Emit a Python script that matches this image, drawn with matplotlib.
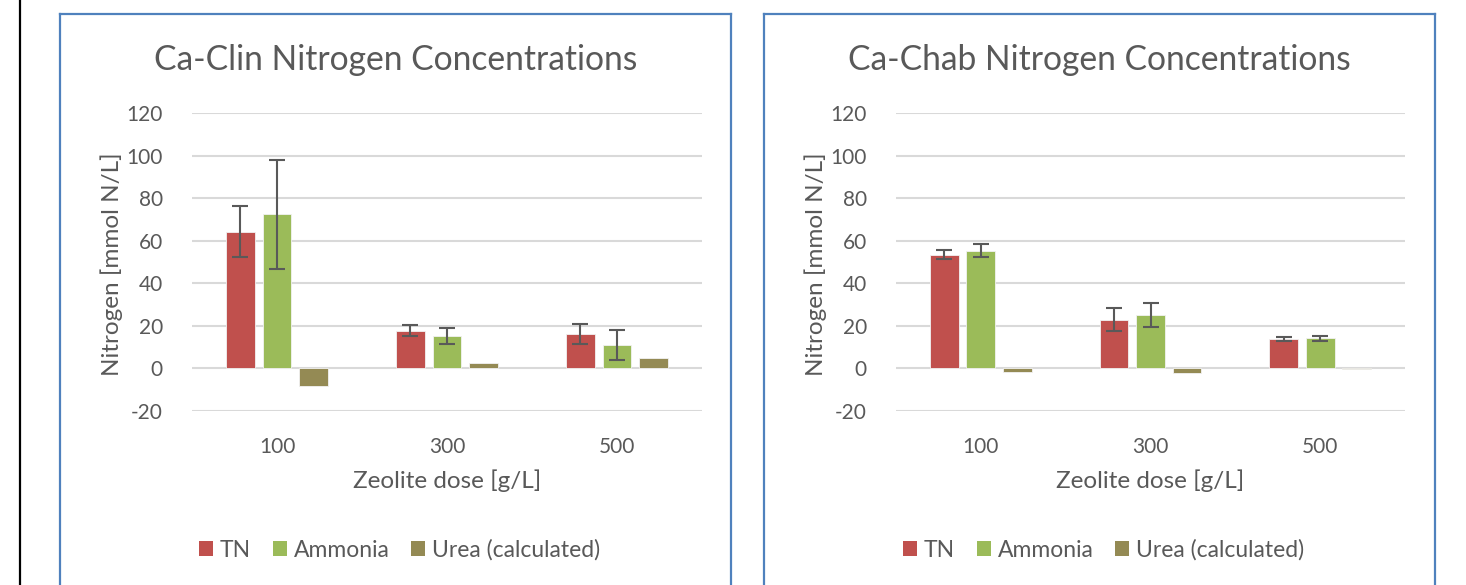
import matplotlib.pyplot as plt
import numpy as np
from matplotlib.lines import Line2D
from matplotlib.patches import Patch

plt.rcParams['font.family'] = ['Lato', 'DejaVu Sans']
plt.rcParams['axes.unicode_minus'] = False

doses = ['100', '300', '500']
series = ['TN', 'Ammonia', 'Urea (calculated)']
colors = ['#C0504D', '#9BBB59', '#948A54']

# Ca-Clin
clin_tn = [64.3, 17.7, 16.3]
clin_tn_err = [12.0, 2.7, 4.6]
clin_amm = [72.5, 15.1, 11.0]
clin_amm_err = [25.6, 3.7, 7.0]
clin_urea = [-8.3, 2.4, 4.7]

# Ca-Chab
chab_tn = [53.5, 22.8, 13.7]
chab_tn_err = [2.3, 5.4, 1.0]
chab_amm = [55.4, 25.0, 14.2]
chab_amm_err = [3.2, 5.6, 1.2]
chab_urea = [-1.9, -2.3, -0.3]

W, H = 1466, 585
fig = plt.figure(figsize=(W / 100, H / 100), dpi=100)
txt = '#595959'


def px(x0, y0, x1, y1):
    # pixel box (top-left origin) -> figure fraction rect
    return [x0 / W, 1 - y1 / H, (x1 - x0) / W, (y1 - y0) / H]


def panel(x0, x1, ax_x0, ax_x1, title, tn, tn_err, amm, amm_err, urea):
    # panel frame (bottom edge is cut off in the original)
    blue = '#4F81BD'
    for xs, ys in [([x0, x0], [H, 14]), ([x0, x1], [14, 14]), ([x1, x1], [14, H])]:
        fig.add_artist(Line2D([v / W for v in xs], [1 - v / H for v in ys],
                              color=blue, lw=1.6))

    ax = fig.add_axes(px(ax_x0, 113, ax_x1, 411))
    x = np.arange(len(doses))
    step = 0.215
    w = 0.17
    vals = [tn, amm, urea]
    errs = [tn_err, amm_err, None]
    for i, (v, e) in enumerate(zip(vals, errs)):
        ax.bar(x + (i - 1) * step, v, w, color=colors[i], edgecolor='#F2F2F2',
               linewidth=0.6, zorder=3)
        if e is not None:
            ax.errorbar(x + (i - 1) * step, v, yerr=e, fmt='none', ecolor='#595959',
                        elinewidth=1.5, capsize=5.5, capthick=1.5, zorder=4)

    ax.set_ylim(-20, 120)
    ax.set_xlim(-0.5, 2.5)
    ax.set_yticks(range(-20, 121, 20))
    ax.set_xticks(x)
    ax.set_xticklabels(doses)
    ax.grid(axis='y', color='#D9D9D9', lw=1.5, zorder=0)
    ax.set_axisbelow(True)
    for s in ax.spines.values():
        s.set_visible(False)
    ax.tick_params(length=0, labelsize=15, labelcolor=txt, pad=21)
    ax.tick_params(axis='x', pad=19)

    cx = (x0 + x1) / 2
    fig.text(cx / W, 1 - 60 / H, title, ha='center', va='center', fontsize=24.2, color=txt)
    fig.text((ax_x0 + ax_x1) / 2 / W, 1 - 481 / H, 'Zeolite dose [g/L]', ha='center',
             va='center', fontsize=17.5, color=txt)
    fig.text((x0 + 52) / W, 1 - 264 / H, 'Nitrogen [mmol N/L]', ha='center', va='center',
             rotation=90, fontsize=17.5, color=txt)

    handles = [Patch(facecolor=c, edgecolor='none') for c in colors]
    fig.legend(handles, series, loc='center', bbox_to_anchor=((cx + 4) / W, 1 - 550 / H),
               ncol=3, frameon=False, fontsize=16.5, labelcolor=txt, handlelength=0.62,
               handleheight=0.62, handletextpad=0.3, columnspacing=0.95)
    return ax


panel(60, 731, 192, 702, 'Ca-Clin Nitrogen Concentrations',
      clin_tn, clin_tn_err, clin_amm, clin_amm_err, clin_urea)
panel(764, 1435, 896, 1405, 'Ca-Chab Nitrogen Concentrations',
      chab_tn, chab_tn_err, chab_amm, chab_amm_err, chab_urea)

# black rule at the far left
fig.add_artist(Line2D([19.5 / W, 19.5 / W], [0, 1], color='black', lw=1.6))

plt.savefig('out.png', dpi=100)
